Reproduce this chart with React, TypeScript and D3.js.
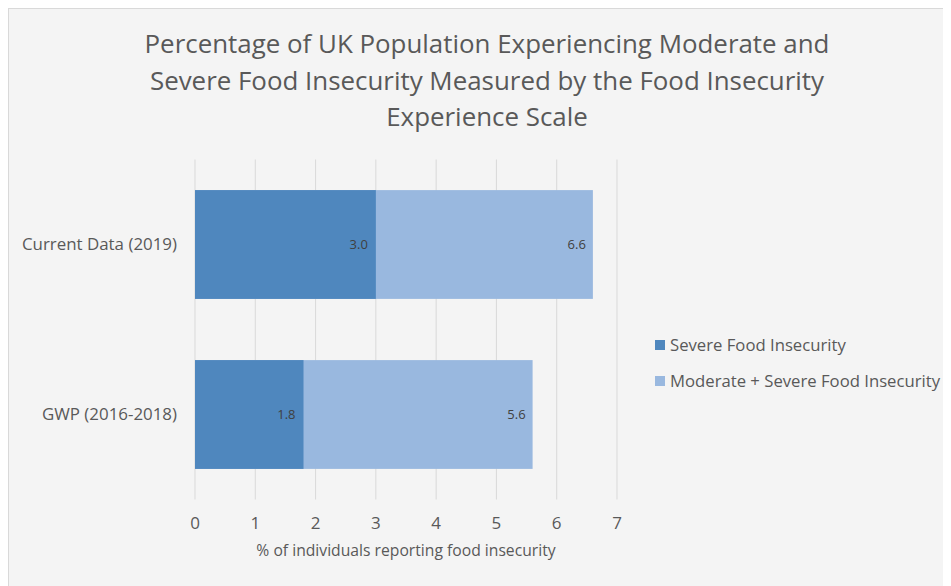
import React from "react";
import * as d3 from "d3";

const categories = ["Current Data (2019)", "GWP (2016-2018)"];
const severe = [3.0, 1.8];
const moderateSevere = [6.6, 5.6];
const xTicks = [0, 1, 2, 3, 4, 5, 6, 7];
const seriesNames = ["Severe Food Insecurity", "Moderate + Severe Food Insecurity"];
const titleLines = [
  "Percentage of UK Population Experiencing Moderate and",
  "Severe Food Insecurity Measured by the Food Insecurity",
  "Experience Scale",
];
const xTitle = "% of individuals reporting food insecurity";

const DARK = "#4f87be";
const LIGHT = "#99b8df";
const TEXT = "#595959";
const FONT = "'Open Sans', sans-serif";

export default function App() {
  const W = 951;
  const H = 586;
  const x = d3.scaleLinear().domain([0, 7]).range([195, 617]);
  const y = d3.scaleBand().domain(categories).range([159.5, 499.5]).paddingInner(0.36).paddingOuter(0.18);
  const bw = y.bandwidth();

  return (
    <svg width={W - 8} height={H - 8} style={{ display: "block" }}>
      <g transform="translate(-8,-8)">
        <rect x={8.5} y={8.5} width={W} height={H} fill="#f4f4f4" stroke="#d9d9d9" />
        {titleLines.map((t, i) => (
          <text key={i} x={487} y={53 + i * 36.5} textAnchor="middle" fontFamily={FONT} fontSize={25.9} fill={TEXT}>
            {t}
          </text>
        ))}
        {xTicks.map((t) => (
          <line key={t} x1={x(t)} x2={x(t)} y1={159.5} y2={499.5} stroke="#d9d9d9" strokeWidth={1} />
        ))}
        {categories.map((c, i) => (
          <g key={c}>
            <rect x={x(0)} y={y(c)!} width={x(moderateSevere[i]) - x(0)} height={bw} fill={LIGHT} />
            <rect x={x(0)} y={y(c)!} width={x(severe[i]) - x(0)} height={bw} fill={DARK} />
            <text x={x(severe[i]) - 8} y={y(c)! + bw / 2} dy="0.35em" textAnchor="end" fontFamily={FONT} fontSize={13} fill="#404040">
              {severe[i].toFixed(1)}
            </text>
            <text x={x(moderateSevere[i]) - 7} y={y(c)! + bw / 2} dy="0.35em" textAnchor="end" fontFamily={FONT} fontSize={13} fill="#404040">
              {moderateSevere[i].toFixed(1)}
            </text>
            <text x={177} y={y(c)! + bw / 2} dy="0.35em" textAnchor="end" fontFamily={FONT} fontSize={16.9} fill={TEXT}>
              {c}
            </text>
          </g>
        ))}
        {xTicks.map((t) => (
          <text key={t} x={x(t)} y={523} dy="0.35em" textAnchor="middle" fontFamily={FONT} fontSize={17} fill={TEXT}>
            {t}
          </text>
        ))}
        <text x={406} y={551} dy="0.35em" textAnchor="middle" fontFamily={FONT} fontSize={15.7} fill={TEXT}>
          {xTitle}
        </text>
        {seriesNames.map((s, i) => (
          <g key={s}>
            <rect x={655} y={340 + i * 36} width={10} height={10} fill={i === 0 ? DARK : LIGHT} />
            <text x={670} y={345 + i * 36} dy="0.35em" fontFamily={FONT} fontSize={16.7} fill={TEXT}>
              {s}
            </text>
          </g>
        ))}
      </g>
    </svg>
  );
}
